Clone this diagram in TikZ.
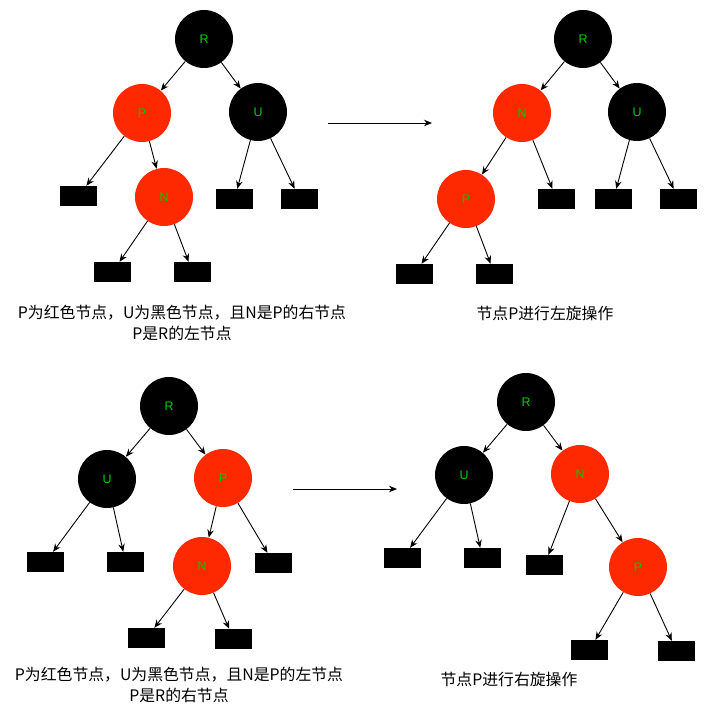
\documentclass[tikz,border=0pt]{standalone}
\usepackage{fontspec}
\newfontfamily\cjk{Noto Sans CJK SC}
\newfontfamily\lab{Liberation Sans}
\usetikzlibrary{arrows.meta}
\definecolor{rbred}{RGB}{255,41,0}
\definecolor{lblgreen}{RGB}{0,204,0}
\begin{document}
\begin{tikzpicture}[x=1bp,y=-1bp,
  rbnode/.style={circle,minimum size=58bp,inner sep=0pt,text=lblgreen,font=\lab\fontsize{12.5}{14}\selectfont},
  blk/.style={rbnode,fill=black},
  redn/.style={rbnode,fill=rbred},
  leaf/.style={fill=black,minimum width=37bp,minimum height=20bp,inner sep=0pt},
  arr/.style={-{Stealth[length=8bp,width=6.5bp]},line width=0.9bp},
  captext/.style={font=\cjk\fontsize{15.9}{20.5}\selectfont,align=center,inner sep=0pt}]
\useasboundingbox (0,0) rectangle (707,720);

% ---------- top left ----------
\node[blk]  (aR) at (204,39) {R};
\node[redn] (aP) at (142,113) {P};
\node[blk]  (aU) at (258,112) {U};
\node[redn] (aN) at (164,197) {N};
\node[leaf] (aL1) at (78.5,196) {};
\node[leaf] (aL2) at (234.5,199) {};
\node[leaf] (aL3) at (299.5,199) {};
\node[leaf] (aL4) at (112.5,272) {};
\node[leaf] (aL5) at (192.5,272) {};
\draw[arr] (aR) -- (aP);
\draw[arr] (aR) -- (aU);
\draw[arr] (aP) -- (aL1);
\draw[arr] (aP) -- (aN);
\draw[arr] (aU) -- (aL2);
\draw[arr] (aU) -- (aL3);
\draw[arr] (aN) -- (aL4);
\draw[arr] (aN) -- (aL5);
\node[captext] (aC) at (182,323) {P为红色节点，U为黑色节点，且N是P的右节点\\P是R的左节点};

% ---------- top right ----------
\node[blk]  (bR) at (583,39) {R};
\node[redn] (bN) at (522,113) {N};
\node[blk]  (bU) at (637,112) {U};
\node[redn] (bP) at (466,199) {P};
\node[leaf] (bL1) at (556.5,199) {};
\node[leaf] (bL2) at (613.5,199) {};
\node[leaf] (bL3) at (678.5,199) {};
\node[leaf] (bL4) at (414.5,274) {};
\node[leaf] (bL5) at (494.5,274) {};
\draw[arr] (bR) -- (bN);
\draw[arr] (bR) -- (bU);
\draw[arr] (bN) -- (bP);
\draw[arr] (bN) -- (bL1);
\draw[arr] (bU) -- (bL2);
\draw[arr] (bU) -- (bL3);
\draw[arr] (bP) -- (bL4);
\draw[arr] (bP) -- (bL5);
\node[captext] (bC) at (545,313) {节点P进行左旋操作};

\coordinate (t1) at (328,123);
\coordinate (t2) at (432,123);
\draw[arr] (t1) -- (t2);

% ---------- bottom left ----------
\node[blk]  (cR) at (169,406) {R};
\node[blk]  (cU) at (107,479) {U};
\node[redn] (cP) at (223,478) {P};
\node[redn] (cN) at (202,566) {N};
\node[leaf] (cL1) at (45.5,562) {};
\node[leaf] (cL2) at (125.5,562) {};
\node[leaf] (cL3) at (273.5,563) {};
\node[leaf] (cL4) at (146.5,638) {};
\node[leaf] (cL5) at (233.5,639) {};
\draw[arr] (cR) -- (cU);
\draw[arr] (cR) -- (cP);
\draw[arr] (cU) -- (cL1);
\draw[arr] (cU) -- (cL2);
\draw[arr] (cP) -- (cN);
\draw[arr] (cP) -- (cL3);
\draw[arr] (cN) -- (cL4);
\draw[arr] (cN) -- (cL5);
\node[captext] (cC) at (179,685) {P为红色节点，U为黑色节点，且N是P的左节点\\P是R的右节点};

\coordinate (u1) at (293,489);
\coordinate (u2) at (397,489);
\draw[arr] (u1) -- (u2);

% ---------- bottom right ----------
\node[blk]  (dR) at (526,402) {R};
\node[blk]  (dU) at (464,475) {U};
\node[redn] (dN) at (580,474) {N};
\node[redn] (dP) at (638,567) {P};
\node[leaf] (dL1) at (402.5,558) {};
\node[leaf] (dL2) at (482.5,558) {};
\node[leaf] (dL3) at (544.5,565) {};
\node[leaf] (dL4) at (589.5,650) {};
\node[leaf] (dL5) at (676.5,651) {};
\draw[arr] (dR) -- (dU);
\draw[arr] (dR) -- (dN);
\draw[arr] (dU) -- (dL1);
\draw[arr] (dU) -- (dL2);
\draw[arr] (dN) -- (dL3);
\draw[arr] (dN) -- (dP);
\draw[arr] (dP) -- (dL4);
\draw[arr] (dP) -- (dL5);
\node[captext] (dC) at (509,679) {节点P进行右旋操作};
\end{tikzpicture}
\end{document}
